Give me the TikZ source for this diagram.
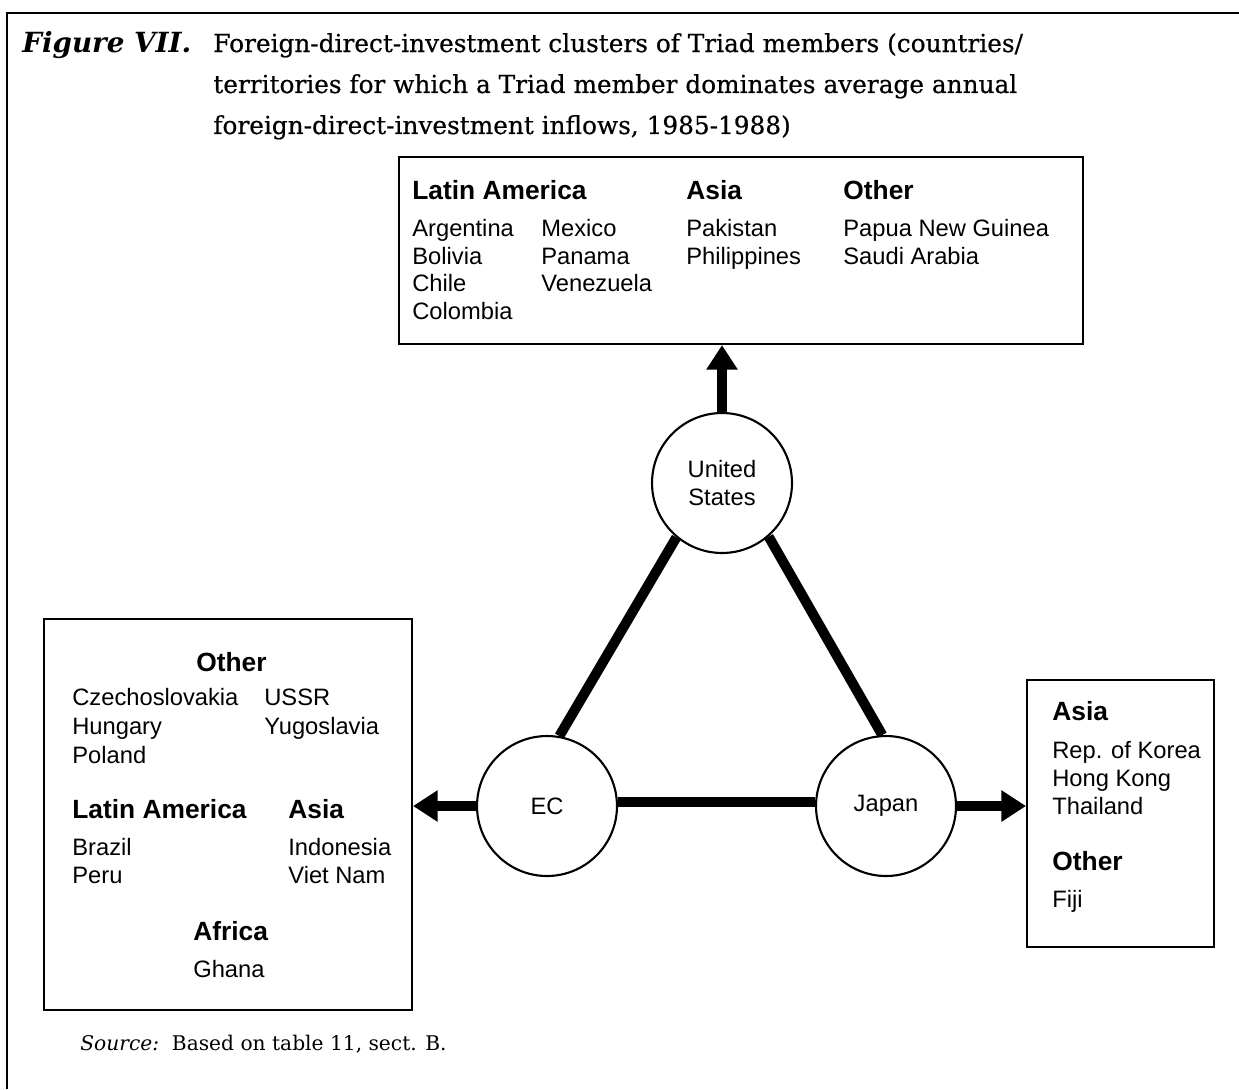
\documentclass[tikz,border=0pt]{standalone}
\usepackage{fontspec}
\setmainfont{DejaVu Serif}
\setsansfont{Liberation Sans}
\newfontfamily\capfont[FakeBold=0.5]{DejaVu Serif}
\usetikzlibrary{positioning,arrows.meta}

\newcommand{\ctysize}{\fontsize{13.5}{16.4}\selectfont}
\newcommand{\regsize}{\fontsize{15}{18}\selectfont}
\newcommand{\capsize}{\fontsize{14.1}{17}\selectfont}

\tikzstyle{panel} = [rectangle, draw, line width=1.2pt, anchor=north west, inner sep=0pt]
\tikzstyle{member} = [circle, draw, line width=1.2pt, minimum size=2.8cm,
    inner sep=0pt, align=center, font=\sffamily\ctysize]
\tikzstyle{cty} = [inner sep=0pt, anchor=base west, font=\sffamily\ctysize]
\tikzstyle{region} = [inner sep=0pt, anchor=base west, font=\sffamily\bfseries\regsize]
\tikzstyle{nextline} = [anchor=base west]
\tikzstyle{caption} = [inner sep=0pt, anchor=base west, font=\capfont\capsize]
\tikzstyle{figlabel} = [inner sep=0pt, anchor=base west, font=\fontsize{15.8}{18}\selectfont\bfseries\itshape]
\tikzstyle{link} = [line width=5.7pt]
\tikzstyle{flow} = [line width=5.7pt, -{Triangle[width=17pt,length=14pt]}]

\begin{document}
\begin{tikzpicture}[x=0.02cm, y=-0.02cm, node distance=0.56cm]
  \useasboundingbox (0,0) rectangle (1239,1089);
  \draw[line width=1.7pt] (1239,13) -- (7,13) -- (7,1089);

  % title
  \node[figlabel] (fig)  at (22,52)  {Figure VII.};
  \node[caption]  (cap1) at (213,52) {Foreign-direct-investment clusters of Triad members (countries/};
  \node[caption]  (cap2) [below=0.82cm of cap1.base west, nextline] {territories for which a Triad member dominates average annual};
  \node[caption]  (cap3) [below=0.82cm of cap2.base west, nextline] {foreign-direct-investment inflows, 1985-1988)};

  % United States cluster
  \node[panel, minimum width=13.68cm, minimum height=3.74cm] (usbox) at (398,156) {};
  \node[region] (usla) at (412,199) {Latin America};
  \node[cty]    (arg)  at (412,236) {Argentina};
  \node[cty]    (bol)  [below=of arg.base west, nextline] {Bolivia};
  \node[cty]    (chi)  [below=of bol.base west, nextline] {Chile};
  \node[cty]    (col)  [below=of chi.base west, nextline] {Colombia};
  \node[cty]    (mex)  at (541,236) {Mexico};
  \node[cty]    (pan)  [below=of mex.base west, nextline] {Panama};
  \node[cty]    (ven)  [below=of pan.base west, nextline] {Venezuela};
  \node[region] (usas) at (686,199) {Asia};
  \node[cty]    (pak)  at (686,236) {Pakistan};
  \node[cty]    (phi)  [below=of pak.base west, nextline] {Philippines};
  \node[region] (usot) at (843,199) {Other};
  \node[cty]    (png)  at (843,236) {Papua New Guinea};
  \node[cty]    (sau)  [below=of png.base west, nextline] {Saudi Arabia};

  % EC cluster
  \node[panel, minimum width=7.36cm, minimum height=7.82cm] (ecbox) at (43,618) {};
  \node[region] (ecot) at (196,671) {Other};
  \node[cty]    (cze)  at (72,705)  {Czechoslovakia};
  \node[cty]    (hun)  [below=0.58cm of cze.base west, nextline] {Hungary};
  \node[cty]    (pol)  [below=0.58cm of hun.base west, nextline] {Poland};
  \node[cty]    (ussr) at (264,705) {USSR};
  \node[cty]    (yug)  [below=0.58cm of ussr.base west, nextline] {Yugoslavia};
  \node[region] (ecla) at (72,818)  {Latin America};
  \node[cty]    (bra)  at (72,855)  {Brazil};
  \node[cty]    (per)  [below=of bra.base west, nextline] {Peru};
  \node[region] (ecas) at (288,818) {Asia};
  \node[cty]    (ido)  at (288,855) {Indonesia};
  \node[cty]    (vn)   [below=of ido.base west, nextline] {Viet Nam};
  \node[region] (ecaf) at (193,940) {Africa};
  \node[cty]    (gha)  at (193,977) {Ghana};

  % Japan cluster
  \node[panel, minimum width=3.74cm, minimum height=5.34cm] (jpbox) at (1026,679) {};
  \node[region] (jpas) at (1052,720) {Asia};
  \node[cty]    (kor)  at (1052,758) {Rep. of Korea};
  \node[cty]    (hk)   [below=of kor.base west, nextline] {Hong Kong};
  \node[cty]    (tha)  [below=of hk.base west, nextline] {Thailand};
  \node[region] (jpot) at (1052,870) {Other};
  \node[cty]    (fij)  at (1052,907) {Fiji};

  % Triad
  \node[member] (us) at (722,483) {United\\States};
  \node[member] (ec) at (547,806) {EC};
  \node[member] (jp) at (886,806) {Japan};

  \path[link] (us.230) edge (ec.80)
              (us.311) edge (jp.93)
              (ec.3)   edge (jp.177);
  \draw[flow] (us) -- (us.north |- usbox.south);
  \draw[flow] (ec) -- (ec.west -| ecbox.east);
  \draw[flow] (jp) -- (jp.east -| jpbox.west);

  % source
  \node[caption, font=\fontsize{11.5}{13}\selectfont] (src) at (80,1050) {\textit{Source:}\ \ Based on table 11, sect. B.};
\end{tikzpicture}
\end{document}
